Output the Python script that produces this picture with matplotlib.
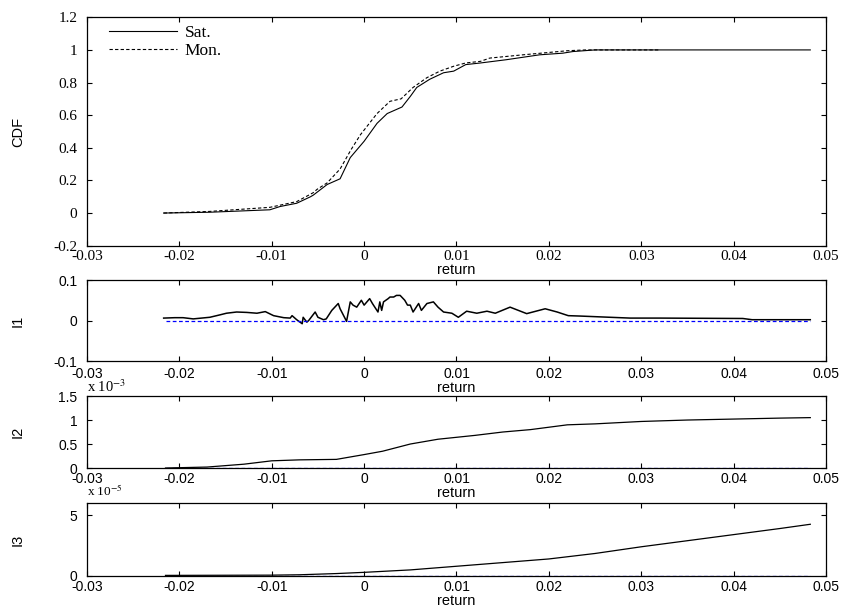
import matplotlib
matplotlib.use('Agg')
import matplotlib.pyplot as plt
import numpy as np

plt.rcParams['mathtext.fontset'] = 'stix'

# CDF, panel superior
sat_x = [-0.0217, -0.0167, -0.0102, -0.0091, -0.0073, -0.0058, -0.0055, -0.0040, -0.0026, -0.0015,
         0.0, 0.0014, 0.0025, 0.0041, 0.0050, 0.0057, 0.0071, 0.0086, 0.0097, 0.0110, 0.0126,
         0.0154, 0.0190, 0.0215, 0.0226, 0.0250, 0.0483]
sat_y = [0.0, 0.005, 0.02, 0.04, 0.06, 0.10, 0.11, 0.175, 0.21, 0.34,
         0.44, 0.55, 0.61, 0.65, 0.715, 0.77, 0.82, 0.86, 0.87, 0.91, 0.92,
         0.94, 0.97, 0.98, 0.99, 1.0, 1.0]
mon_x = [-0.0217, -0.0167, -0.0102, -0.0073, -0.0055, -0.0051, -0.0040, -0.0026, -0.0014, -0.0004,
         0.0014, 0.0028, 0.0040, 0.0053, 0.0068, 0.0082, 0.0097, 0.0110, 0.0126, 0.0136,
         0.0172, 0.0201, 0.0220, 0.0240, 0.0320]
mon_y = [0.0, 0.01, 0.035, 0.07, 0.125, 0.145, 0.185, 0.27, 0.39, 0.48,
         0.61, 0.685, 0.70, 0.77, 0.83, 0.87, 0.90, 0.92, 0.93, 0.95,
         0.97, 0.985, 0.995, 1.0, 1.0]

# I1
i1_x = [-0.0217, -0.0205, -0.0196, -0.0185, -0.0167, -0.0156, -0.0149, -0.0138, -0.0127, -0.0116,
        -0.0107, -0.0098, -0.0087, -0.0080, -0.0078, -0.0073, -0.0067, -0.0066, -0.0062, -0.0060,
        -0.0053, -0.0050, -0.0044, -0.0041, -0.0035, -0.0028, -0.0026, -0.0019, -0.0015, -0.0012,
        -0.0008, -0.0003, 0.0000, 0.0006, 0.0009, 0.0015, 0.0017, 0.0019, 0.0021, 0.0026,
        0.0028, 0.0032, 0.0035, 0.0039, 0.0044, 0.0047, 0.0050, 0.0053, 0.0059, 0.0062,
        0.0068, 0.0075, 0.0080, 0.0086, 0.0095, 0.0102, 0.0111, 0.0122, 0.0133, 0.0142,
        0.0158, 0.0176, 0.0196, 0.0209, 0.0221, 0.0234, 0.0266, 0.0288, 0.0320, 0.0410,
        0.0420, 0.0483]
i1_y = [0.006, 0.007, 0.007, 0.004, 0.008, 0.014, 0.018, 0.021, 0.020, 0.018,
        0.022, 0.012, 0.007, 0.006, 0.012, 0.002, -0.008, 0.008, -0.004, 0.000,
        0.021, 0.008, 0.002, 0.004, 0.025, 0.042, 0.029, -0.002, 0.046, 0.038,
        0.033, 0.050, 0.038, 0.054, 0.042, 0.021, 0.046, 0.025, 0.046, 0.054,
        0.058, 0.058, 0.062, 0.062, 0.050, 0.038, 0.038, 0.021, 0.042, 0.025,
        0.042, 0.046, 0.033, 0.021, 0.018, 0.008, 0.023, 0.018, 0.023, 0.018,
        0.033, 0.017, 0.029, 0.021, 0.012, 0.011, 0.008, 0.006, 0.006, 0.005,
        0.002, 0.002]

# I2 (x 10^-3)
i2_x = [-0.0215, -0.017, -0.013, -0.010, -0.007, -0.003, 0.0, 0.002, 0.005, 0.008,
        0.010, 0.012, 0.015, 0.018, 0.020, 0.022, 0.025, 0.030, 0.035, 0.040, 0.045, 0.0483]
i2_y = [0.0, 0.02, 0.08, 0.15, 0.17, 0.18, 0.28, 0.35, 0.50, 0.60,
        0.64, 0.68, 0.75, 0.80, 0.85, 0.90, 0.92, 0.97, 1.00, 1.02, 1.04, 1.05]

# I3 (x 10^-5)
i3_x = [-0.0215, -0.010, -0.007, -0.003, 0.0, 0.005, 0.010, 0.015, 0.020, 0.025,
        0.030, 0.035, 0.040, 0.045, 0.0483]
i3_y = [0.05, 0.07, 0.10, 0.20, 0.30, 0.50, 0.80, 1.10, 1.40, 1.85,
        2.40, 2.90, 3.40, 3.90, 4.25]

cero_x = [-0.0215, 0.0483]
cero_y = [0.0, 0.0]

serif = 'Liberation Serif'
sans = 'Liberation Sans'

fig = plt.figure(figsize=(8.47, 6.09), dpi=100)
izq, ancho = 0.1027, 0.8725
ax0 = fig.add_axes([izq, 0.5966, ancho, 0.375])
ax1 = fig.add_axes([izq, 0.4072, ancho, 0.133])
ax2 = fig.add_axes([izq, 0.2315, ancho, 0.1182])
ax3 = fig.add_axes([izq, 0.0542, ancho, 0.1199])

xticks = [-0.03, -0.02, -0.01, 0, 0.01, 0.02, 0.03, 0.04, 0.05]
xlabels = ['-0.03', '-0.02', '-0.01', '0', '0.01', '0.02', '0.03', '0.04', '0.05']


def estilo(ax, fam, tam, yticks, ylabels, ylim, nombre, xpad=3):
    ax.set_xlim(-0.03, 0.05)
    ax.set_ylim(*ylim)
    ax.set_xticks(xticks)
    ax.set_xticklabels(xlabels, family=fam, fontsize=tam)
    ax.set_yticks(yticks)
    ax.set_yticklabels(ylabels, family=fam, fontsize=tam)
    ax.tick_params(direction='in', top=True, right=True, length=3.5, width=0.8)
    ax.tick_params(axis='y', pad=7)
    ax.tick_params(axis='x', pad=xpad)
    for s in ax.spines.values():
        s.set_linewidth(0.9)
    ax.set_xlabel('return', family=sans, fontsize=10.5, labelpad=0)
    ax.set_ylabel(nombre, family=sans, fontsize=10.5)
    ax.yaxis.set_label_coords(-0.084, 0.5)


ax0.plot(sat_x, sat_y, color='black', lw=0.8, label='Sat.')
ax0.plot(mon_x, mon_y, color='black', lw=0.8, ls=(0, (3, 2)), label='Mon.')
estilo(ax0, serif, 11, [-0.2, 0, 0.2, 0.4, 0.6, 0.8, 1, 1.2],
       ['-0.2', '0', '0.2', '0.4', '0.6', '0.8', '1', '1.2'], (-0.2, 1.2), 'CDF')
ax0.legend(loc='upper left', bbox_to_anchor=(0.023, 0.99), frameon=False,
           prop={'family': serif, 'size': 12.5}, handlelength=3.9, borderaxespad=0,
           labelspacing=0.12, handletextpad=0.45, borderpad=0.3)

ax1.plot(i1_x, i1_y, color='black', lw=1.1)
ax1.plot(cero_x, cero_y, color='blue', lw=0.9, ls=(0, (3, 2)))
estilo(ax1, sans, 10, [-0.1, 0, 0.1], ['-0.1', '0', '0.1'], (-0.1, 0.1), 'I1', xpad=4)

ax2.plot(cero_x, cero_y, color='blue', lw=0.9, ls=(0, (3, 2)))
ax2.plot(i2_x, i2_y, color='black', lw=0.9)
estilo(ax2, sans, 10, [0, 0.5, 1, 1.5], ['0', '0.5', '1', '1.5'], (0, 1.5), 'I2', xpad=3)
ax2.text(0.0, 1.02, r'x 10$^{-3}$', transform=ax2.transAxes, family=serif,
         fontsize=10.5, ha='left', va='bottom')

ax3.plot(cero_x, cero_y, color='blue', lw=0.9, ls=(0, (3, 2)))
ax3.plot(i3_x, i3_y, color='black', lw=0.9)
estilo(ax3, sans, 10, [0, 5], ['0', '5'], (0, 6), 'I3', xpad=3)
ax3.text(0.0, 1.05, r'x 10$^{-5}$', transform=ax3.transAxes, family=serif,
         fontsize=9.5, ha='left', va='bottom')

fig.savefig('out.png', dpi=100)
